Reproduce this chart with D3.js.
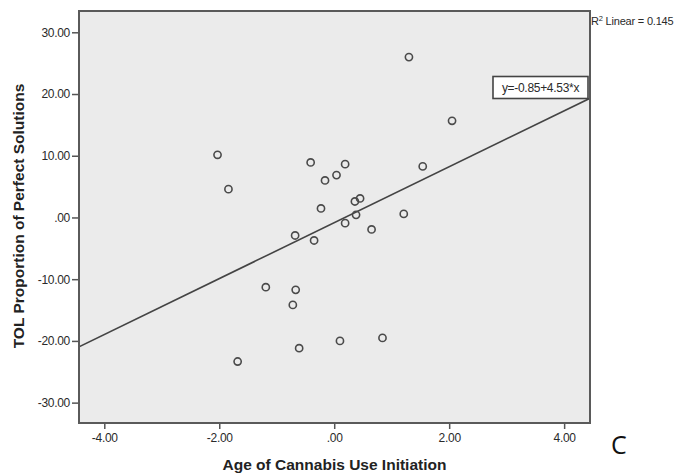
<!DOCTYPE html>
<html><head><meta charset="utf-8">
<script src="https://cdn.jsdelivr.net/npm/d3@7"></script>
<style>body{margin:0;background:#fff}svg{display:block}text{font-family:"Liberation Sans",Arial,sans-serif}</style>
</head><body><svg id="c" width="686" height="474"></svg>
<script>
const ageX = [-2.03,-1.84,1.30,2.05,-0.41,0.19,0.04,-0.16,-0.23,0.36,0.45,0.38,1.54,1.21,-0.68,-0.35,0.19,0.65,-1.19,-0.67,-0.72,-0.61,0.10,0.84,-1.68];
const tolY = [10.15,4.59,25.98,15.66,8.91,8.64,6.86,6.00,1.46,2.59,3.08,0.42,8.27,0.58,-2.92,-3.73,-0.92,-1.94,-11.30,-11.73,-14.17,-21.18,-20.00,-19.51,-23.34];
const xTicks = [-4,-2,0,2,4];
const yTicks = [-30,-20,-10,0,10,20,30];
const intercept = -0.85, slope = 4.53;
const r2 = 0.145;
const xTitle = "Age of Cannabis Use Initiation";
const yTitle = "TOL Proportion of Perfect Solutions";
const panelLabel = "C";

const fmt = v => { const s = Math.abs(v).toFixed(2); const t = s.startsWith("0") ? s.slice(1) : s; return (v<0?"-":"")+t; };

const svg = d3.select("#c");
const L=79, R=590, T=11, B=423;
const x = d3.scaleLinear().domain([-4.44,4.45]).range([L,R]);
const y = d3.scaleLinear().domain([-33.3,33.45]).range([B,T]);

svg.append("rect").attr("x",L).attr("y",T).attr("width",R-L).attr("height",B-T).attr("fill","#ebebeb");

svg.append("clipPath").attr("id","pc").append("rect").attr("x",L).attr("y",T).attr("width",R-L).attr("height",B-T);

const gx = svg.append("g").attr("transform",`translate(0,${B})`)
  .call(d3.axisBottom(x).tickValues(xTicks).tickFormat(fmt).tickSize(6).tickPadding(4));
const gy = svg.append("g").attr("transform",`translate(${L},0)`)
  .call(d3.axisLeft(y).tickValues(yTicks).tickFormat(fmt).tickSize(7).tickPadding(2));
[gx,gy].forEach(g=>{
  g.select(".domain").remove();
  g.selectAll(".tick line").attr("stroke","#555").attr("stroke-width",1.5);
  g.selectAll(".tick text").attr("fill","#2a2a2a").attr("font-size",12).style("letter-spacing","-0.3px");
});

// regression line
const xd = x.domain();
svg.append("line").attr("clip-path","url(#pc)")
  .attr("x1",x(xd[0])).attr("y1",y(intercept+slope*xd[0]))
  .attr("x2",x(xd[1])).attr("y2",y(intercept+slope*xd[1]))
  .attr("stroke","#444").attr("stroke-width",1.6);

// points
svg.append("g").selectAll("circle").data(ageX.map((v,i)=>[v,tolY[i]])).join("circle")
  .attr("cx",d=>x(d[0])).attr("cy",d=>y(d[1])).attr("r",3.6)
  .attr("fill","none").attr("stroke","#4a4a4a").attr("stroke-width",1.6);

// frame
svg.append("rect").attr("x",L).attr("y",T).attr("width",R-L).attr("height",B-T)
  .attr("fill","none").attr("stroke","#5a5a5a").attr("stroke-width",2);

// equation box
const eq = svg.append("g");
eq.append("rect").attr("x",493).attr("y",76.5).attr("width",95).attr("height",22)
  .attr("fill","#fff").attr("stroke","#444").attr("stroke-width",1.6);
eq.append("text").attr("x",540.5).attr("y",92).attr("text-anchor","middle")
  .attr("font-size",12).attr("fill","#2a2a2a").style("letter-spacing","-0.3px")
  .text(`y=${intercept.toFixed(2)}+${slope.toFixed(2)}*x`);

// R2 label
const rt = svg.append("text").attr("x",591).attr("y",25).attr("font-size",11).attr("fill","#2a2a2a").style("letter-spacing","-0.2px");
rt.append("tspan").text("R");
rt.append("tspan").attr("font-size",7.5).attr("dy",-4).text("2");
rt.append("tspan").attr("dy",4).text(` Linear = ${r2.toFixed(3)}`);

// titles
svg.append("text").attr("x",(L+R)/2).attr("y",470).attr("text-anchor","middle")
  .attr("font-size",15.5).attr("font-weight","bold").attr("fill","#222").text(xTitle);
svg.append("text").attr("transform",`translate(24,216) rotate(-90)`).attr("text-anchor","middle")
  .attr("font-size",15.5).attr("font-weight","bold").attr("fill","#222").text(yTitle);
svg.append("text").attr("x",611).attr("y",454).attr("font-size",25).attr("fill","#111")
  .style("font-family","'Open Sans',sans-serif").text(panelLabel);
</script></body></html>
